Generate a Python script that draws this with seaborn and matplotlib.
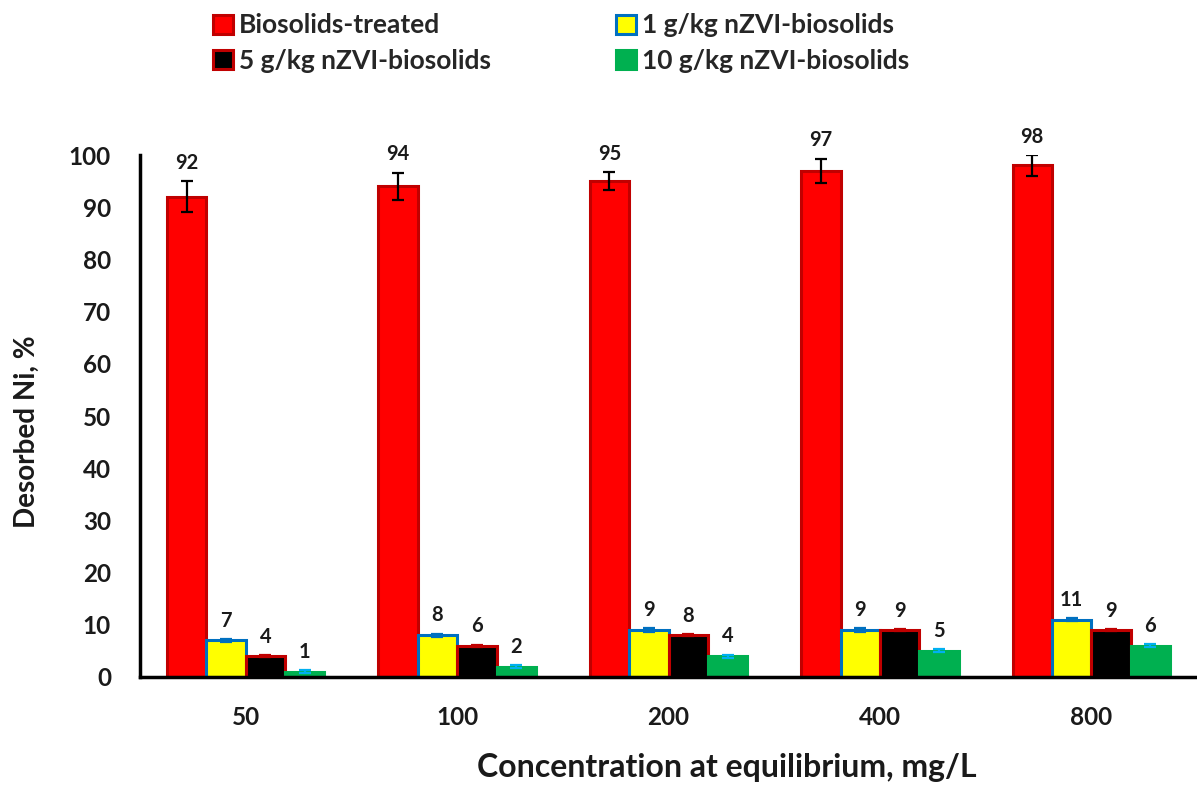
import matplotlib
matplotlib.use("Agg")
import matplotlib.pyplot as plt
from matplotlib.patches import Patch
import seaborn as sns
import pandas as pd
import numpy as np

# ---- data ----
concentrations = ["50", "100", "200", "400", "800"]
treatments = ["Biosolids-treated", "1 g/kg nZVI-biosolids",
              "5 g/kg nZVI-biosolids", "10 g/kg nZVI-biosolids"]
biosolids = [92, 94, 95, 97, 98]
nzvi_1 = [7, 8, 9, 9, 11]
nzvi_5 = [4, 6, 8, 9, 9]
nzvi_10 = [1, 2, 4, 5, 6]
err_biosolids = [3.0, 2.6, 1.7, 2.3, 2.0]
err_nzvi_1 = [0.3, 0.3, 0.3, 0.3, 0.3]
err_nzvi_5 = [0.2, 0.2, 0.2, 0.2, 0.2]
err_nzvi_10 = [0.3, 0.3, 0.3, 0.3, 0.3]

values = [biosolids, nzvi_1, nzvi_5, nzvi_10]
errors = [err_biosolids, err_nzvi_1, err_nzvi_5, err_nzvi_10]

rows = []
for t, vals in zip(treatments, values):
    for c, v in zip(concentrations, vals):
        rows.append({"conc": c, "value": v, "treatment": t})
df = pd.DataFrame(rows)

face = ["#FF0000", "#FFFF00", "#000000", "#00B050"]
edge = ["#C00000", "#0070C0", "#C00000", "#00B050"]
ecol = ["#000000", "#0070C0", "#C00000", "#00B0F0"]

sns.set_style("white")
plt.rcParams["font.family"] = ["Lato", "DejaVu Sans"]
plt.rcParams["font.weight"] = "bold"

fig = plt.figure(figsize=(11.97, 7.89), dpi=100)
ax = fig.add_axes([0.117, 0.142, 0.883, 0.6615])

sns.barplot(data=df, x="conc", y="value", hue="treatment",
            order=concentrations, hue_order=treatments,
            palette=face, width=0.745, gap=0, errorbar=None,
            legend=False, saturation=1, ax=ax)

bar_containers = list(ax.containers)
for i, cont in enumerate(bar_containers):
    xs = []
    for p in cont.patches:
        p.set_edgecolor(edge[i])
        p.set_linewidth(2.2)
        xs.append(p.get_x() + p.get_width() / 2)
    vals = values[i]
    errs = errors[i]
    ax.errorbar(xs, vals, yerr=errs, fmt="none", ecolor=ecol[i],
                elinewidth=1.6, capsize=4, capthick=1.6, zorder=5)
    for x, v, e in zip(xs, vals, errs):
        ax.annotate(f"{v}", (x, v + e), xytext=(0, 6),
                    textcoords="offset points", ha="center", va="bottom",
                    fontsize=14.5, fontweight="bold", color="#1a1a1a")

ax.set_ylim(0, 100)
ax.set_xlim(-0.5, 4.5)
ax.set_yticks(np.arange(0, 101, 10))
ax.tick_params(axis="both", length=0, labelsize=17.5)
ax.tick_params(axis="y", pad=21)
ax.tick_params(axis="x", pad=21)
for lab in ax.get_xticklabels() + ax.get_yticklabels():
    lab.set_fontweight("bold")
    lab.set_color("#1a1a1a")

sns.despine(ax=ax, top=True, right=True)
ax.spines["left"].set_linewidth(2.5)
ax.spines["bottom"].set_linewidth(2.5)
ax.spines["left"].set_color("black")
ax.spines["bottom"].set_color("black")

ax.set_ylabel("Desorbed Ni, %", fontsize=20, fontweight="bold", labelpad=21,
              color="#1a1a1a")
ax.yaxis.label.set_y(0.469)
ax.set_xlabel("Concentration at equilibrium, mg/L", fontsize=23,
              fontweight="bold", labelpad=17, color="#1a1a1a")
ax.xaxis.label.set_x(0.555)

handles = [Patch(facecolor=face[i], edgecolor=edge[i], linewidth=2.2)
           for i in range(4)]
order = [0, 2, 1, 3]
fig.legend([handles[i] for i in order], [treatments[i] for i in order],
           loc="upper left", bbox_to_anchor=(0.158, 1.013), ncol=2,
           frameon=False, handlelength=0.75, handleheight=0.75,
           handletextpad=0.24, columnspacing=4.75, labelspacing=0.43,
           prop={"weight": "bold", "size": 19})

fig.savefig("out.png", dpi=100, facecolor="white")
